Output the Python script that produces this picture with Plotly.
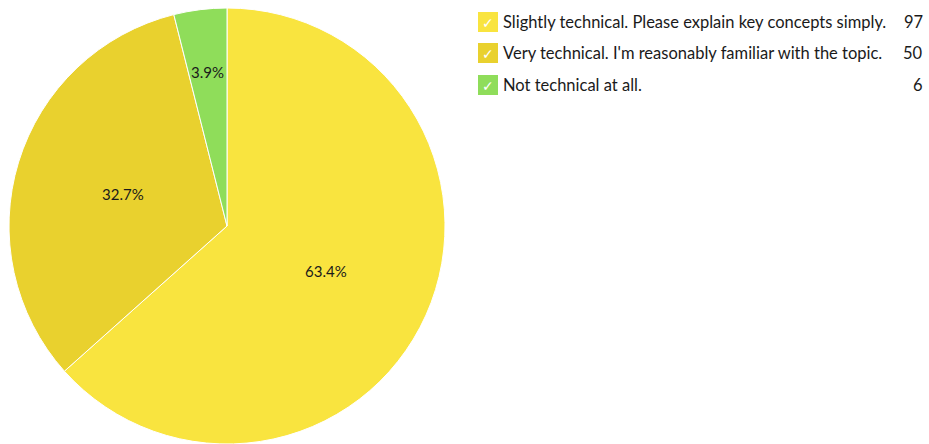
import math
import plotly.graph_objects as go

labels = ["Slightly technical. Please explain key concepts simply.",
          "Very technical. I'm reasonably familiar with the topic.",
          "Not technical at all."]
values = [97, 50, 6]
colors = ["#F9E43F", "#E9D12E", "#8FDD5A"]

W, H = 929, 444
CX, CY, R = 227, 226, 218  # pie centre / radius in px
label_r = [0.5, 0.5, 0.71]   # radial position of each percent label

fig = go.Figure(go.Pie(
    labels=labels, values=values, sort=False, direction="clockwise", rotation=0,
    marker=dict(colors=colors, line=dict(color="white", width=1)),
    textinfo="none",
    domain=dict(x=[(CX - R) / W, (CX + R) / W], y=[0, 2 * R / H]),
    showlegend=False, hoverinfo="label+value+percent",
))

shapes, annots = [], []

total = sum(values)
cum = 0
for v, rf in zip(values, label_r):
    mid = (cum + v / 2) / total * 2 * math.pi
    cum += v
    px = CX + rf * R * math.sin(mid)
    py = CY - rf * R * math.cos(mid)
    annots.append(dict(x=px / W, y=1 - py / H, xref="paper", yref="paper",
                       text=f"{v / total * 100:.1f}%", showarrow=False,
                       font=dict(family="Lato", size=15, color="#1a1a1a"),
                       xanchor="center", yanchor="middle"))

row_y = [22, 53, 85]
for lab, val, col, y in zip(labels, values, colors, row_y):
    shapes.append(dict(type="rect", xref="paper", yref="paper",
                       x0=478 / W, x1=498 / W, y0=1 - (y - 10) / H, y1=1 - (y + 10) / H,
                       fillcolor=col, line=dict(width=0)))
    annots.append(dict(x=488 / W, y=1 - (y + 1) / H, xref="paper", yref="paper", text="✓",
                       showarrow=False, font=dict(family="DejaVu Sans", size=14, color="white"),
                       xanchor="center", yanchor="middle"))
    annots.append(dict(x=501 / W, y=1 - y / H, xref="paper", yref="paper", text=lab,
                       showarrow=False, font=dict(family="Lato", size=16.5, color="#1a1a1a"),
                       xanchor="left", yanchor="middle"))
    annots.append(dict(x=925 / W, y=1 - y / H, xref="paper", yref="paper", text=str(val),
                       showarrow=False, font=dict(family="Lato", size=16.5, color="#1a1a1a"),
                       xanchor="right", yanchor="middle"))

fig.update_layout(width=W, height=H, margin=dict(l=0, r=0, t=0, b=0),
                  paper_bgcolor="white", plot_bgcolor="white",
                  shapes=shapes, annotations=annots)
fig.write_html("out.html")
